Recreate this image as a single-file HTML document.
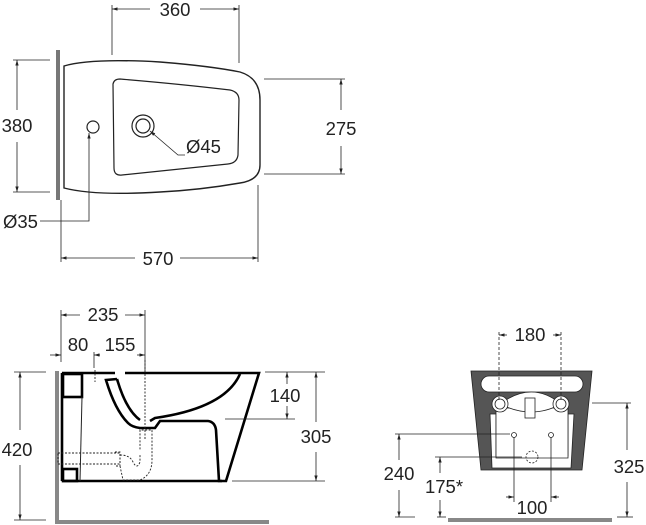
<!DOCTYPE html>
<html><head><meta charset="utf-8"><style>
html,body{margin:0;padding:0;background:#fff;}
svg{display:block;}
text{font-family:"Liberation Sans",sans-serif;font-size:18.5px;fill:#222;}
</style></head><body>
<svg width="646" height="525" viewBox="0 0 646 525" xmlns="http://www.w3.org/2000/svg">
<defs>
<marker id="a" viewBox="0 0 10 10" refX="10" refY="5" markerWidth="7" markerHeight="7" orient="auto-start-reverse"><path d="M0,2 L10,5 L0,8 z" fill="#222"/></marker>
</defs>
<g stroke="#222" stroke-width="0.8" fill="none">
<!-- TOP VIEW -->
<rect x="56" y="50" width="4" height="150" fill="#777" stroke="none"/>
<path d="M64,66 Q90,58 160,62 Q210,66 240,72 Q260,78 260,100 L260,165 Q260,180 240,183 Q200,190 160,192 Q95,196 64,188 Z" stroke-width="1.4"/>
<path d="M113,84 Q114,79 120,79 Q180,84 230,90 Q239,92 239,100 L238,155 Q237,163 228,164 Q170,170 122,175 Q114,176 114,168 Z" stroke-width="1.2"/>
<circle cx="143" cy="126" r="11" stroke-width="1.2"/>
<circle cx="143" cy="126" r="7" stroke-width="1.2"/>
<circle cx="93" cy="127" r="6" stroke-width="1.2"/>
<line x1="112" y1="5" x2="112" y2="55"/><line x1="239" y1="5" x2="239" y2="63"/>
<line x1="112" y1="9" x2="150" y2="9" marker-start="url(#a)"/><line x1="200" y1="9" x2="239" y2="9" marker-end="url(#a)"/>
<line x1="13" y1="60" x2="50" y2="60"/><line x1="13" y1="192" x2="50" y2="192"/>
<line x1="17" y1="60" x2="17" y2="110" marker-start="url(#a)"/><line x1="17" y1="142" x2="17" y2="192" marker-end="url(#a)"/>
<line x1="264" y1="79" x2="345" y2="79"/><line x1="264" y1="174" x2="345" y2="174"/>
<line x1="341" y1="79" x2="341" y2="110" marker-start="url(#a)"/><line x1="341" y1="146" x2="341" y2="174" marker-end="url(#a)"/>
<line x1="61" y1="200" x2="61" y2="262"/><line x1="258" y1="185" x2="258" y2="262"/>
<line x1="61" y1="258" x2="135" y2="258" marker-start="url(#a)"/><line x1="180" y1="258" x2="258" y2="258" marker-end="url(#a)"/>
<path d="M40,221 L89,221 L89,133" marker-end="url(#a)"/>
<path d="M185,155 L178,155 L150,131" marker-end="url(#a)"/>
<!-- SIDE VIEW -->
<rect x="55" y="371" width="4" height="153" fill="#888" stroke="none"/>
<rect x="55" y="520" width="214" height="4" fill="#888" stroke="none"/>
<g stroke="#000" stroke-width="2.6">
<path d="M62,373 L115,373 M125,373 L259,373 L226,481 L219,481 L216,430 Q215,422 208,421 L160,421 L155,428 L150,428"/>
<path d="M240,374 Q225,408 155,418 L150,421"/>
<path d="M117,379 L106,380 Q115,410 128,423 Q132,427 140,428 L150,428"/>
<path d="M117,379 Q126,410 140,420"/>
<rect x="63" y="374" width="19" height="23"/>
<rect x="63" y="469" width="14" height="12"/>
<line x1="62" y1="373" x2="62" y2="481"/>
<line x1="62" y1="481" x2="222" y2="481"/>
</g>
<line x1="82" y1="397" x2="80" y2="481" stroke-width="1"/>
<g stroke-dasharray="2,1.5" stroke-width="0.9">
<rect x="58" y="453" width="62" height="11"/>
<path d="M115,452 L120,452 L120,466 L115,466 M120,455 Q130,455 133,462 Q137,470 140,462 L140,455"/>
<path d="M120,466 L123,480 L140,480 Q152,475 152,460 L152,430 L140,430 L140,450"/>
<line x1="95" y1="370" x2="95" y2="382"/><line x1="145" y1="360" x2="145" y2="440"/>
</g>
<line x1="61" y1="310" x2="61" y2="362"/><line x1="145" y1="310" x2="145" y2="372"/>
<line x1="61" y1="315" x2="80" y2="315" marker-start="url(#a)"/><line x1="125" y1="315" x2="145" y2="315" marker-end="url(#a)"/>
<line x1="50" y1="355" x2="61" y2="355" marker-end="url(#a)"/>
<line x1="94" y1="352" x2="94" y2="368"/>
<line x1="94" y1="355" x2="100" y2="355" marker-start="url(#a)"/>
<line x1="137" y1="355" x2="145" y2="355" marker-end="url(#a)"/>
<line x1="14" y1="372" x2="46" y2="372"/><line x1="14" y1="520" x2="46" y2="520"/>
<line x1="20" y1="372" x2="20" y2="430" marker-start="url(#a)"/><line x1="20" y1="465" x2="20" y2="520" marker-end="url(#a)"/>
<line x1="265" y1="372" x2="325" y2="372"/><line x1="225" y1="419" x2="295" y2="419"/><line x1="232" y1="481" x2="325" y2="481"/>
<line x1="287" y1="372" x2="287" y2="384" marker-start="url(#a)"/><line x1="287" y1="406" x2="287" y2="419" marker-end="url(#a)"/>
<line x1="316" y1="372" x2="316" y2="422" marker-start="url(#a)"/><line x1="316" y1="452" x2="316" y2="481" marker-end="url(#a)"/>
<!-- FRONT VIEW -->
<path d="M471,371 L592,371 L582,470 L481,470 Z" fill="#555" stroke="#222"/>
<path d="M490,414 L496,414 L496,456 L568,456 L568,414 L574,414 L571,468 L492,468 Z" fill="#fff" stroke="#222"/>
<path d="M496,408 L568,408 L568,458 L496,458 Z" fill="#fff" stroke="#222"/>
<rect x="481" y="376" width="102" height="16" rx="8" fill="#fff"/>
<path d="M500,404 Q532,380 561,404 Q532,420 500,404 Z" fill="#fff"/>
<rect x="525" y="398" width="10" height="20" fill="#fff"/>
<circle cx="500" cy="404" r="8" fill="#fff"/><circle cx="500" cy="404" r="5" fill="#fff"/>
<circle cx="561" cy="404" r="8" fill="#fff"/><circle cx="561" cy="404" r="5" fill="#fff"/>
<circle cx="514" cy="435" r="2.5"/><circle cx="551" cy="435" r="2.5"/>
<circle cx="532" cy="457" r="6" stroke-dasharray="2,1.5"/>
<g stroke-dasharray="3,2"><line x1="499" y1="332" x2="499" y2="400"/><line x1="561" y1="332" x2="561" y2="400"/></g>
<line x1="499" y1="335" x2="507" y2="335" marker-start="url(#a)"/><line x1="553" y1="335" x2="561" y2="335" marker-end="url(#a)"/>
<rect x="448" y="518" width="164" height="4" fill="#888" stroke="none"/>
<line x1="395" y1="434" x2="510" y2="434"/><line x1="435" y1="457" x2="522" y2="457"/>
<line x1="395" y1="517" x2="415" y2="517"/><line x1="437" y1="517" x2="446" y2="517"/>
<line x1="399" y1="434" x2="399" y2="460" marker-start="url(#a)"/><line x1="399" y1="490" x2="399" y2="517" marker-end="url(#a)"/>
<line x1="440" y1="457" x2="440" y2="473" marker-start="url(#a)"/><line x1="440" y1="500" x2="440" y2="517" marker-end="url(#a)"/>
<line x1="514" y1="437" x2="514" y2="502"/><line x1="551" y1="437" x2="551" y2="502"/>
<line x1="506" y1="497" x2="514" y2="497" marker-end="url(#a)"/><line x1="559" y1="497" x2="551" y2="497" marker-end="url(#a)"/>
<line x1="592" y1="403" x2="631" y2="403"/><line x1="617" y1="517" x2="633" y2="517"/>
<line x1="627" y1="403" x2="627" y2="450" marker-start="url(#a)"/><line x1="627" y1="482" x2="627" y2="517" marker-end="url(#a)"/>
</g>
<text x="175" y="16" text-anchor="middle">360</text>
<text x="17" y="132" text-anchor="middle">380</text>
<text x="341" y="135" text-anchor="middle">275</text>
<text x="158" y="265" text-anchor="middle">570</text>
<text x="3" y="228">Ø35</text>
<text x="186" y="153">Ø45</text>
<text x="103" y="321" text-anchor="middle">235</text>
<text x="78" y="351" text-anchor="middle">80</text>
<text x="120" y="351" text-anchor="middle">155</text>
<text x="17" y="456" text-anchor="middle">420</text>
<text x="285" y="402" text-anchor="middle">140</text>
<text x="316" y="443" text-anchor="middle">305</text>
<text x="530" y="341" text-anchor="middle">180</text>
<text x="399" y="480" text-anchor="middle">240</text>
<text x="444" y="493" text-anchor="middle">175*</text>
<text x="532" y="514" text-anchor="middle">100</text>
<text x="629" y="473" text-anchor="middle">325</text>
</svg>
</body></html>
